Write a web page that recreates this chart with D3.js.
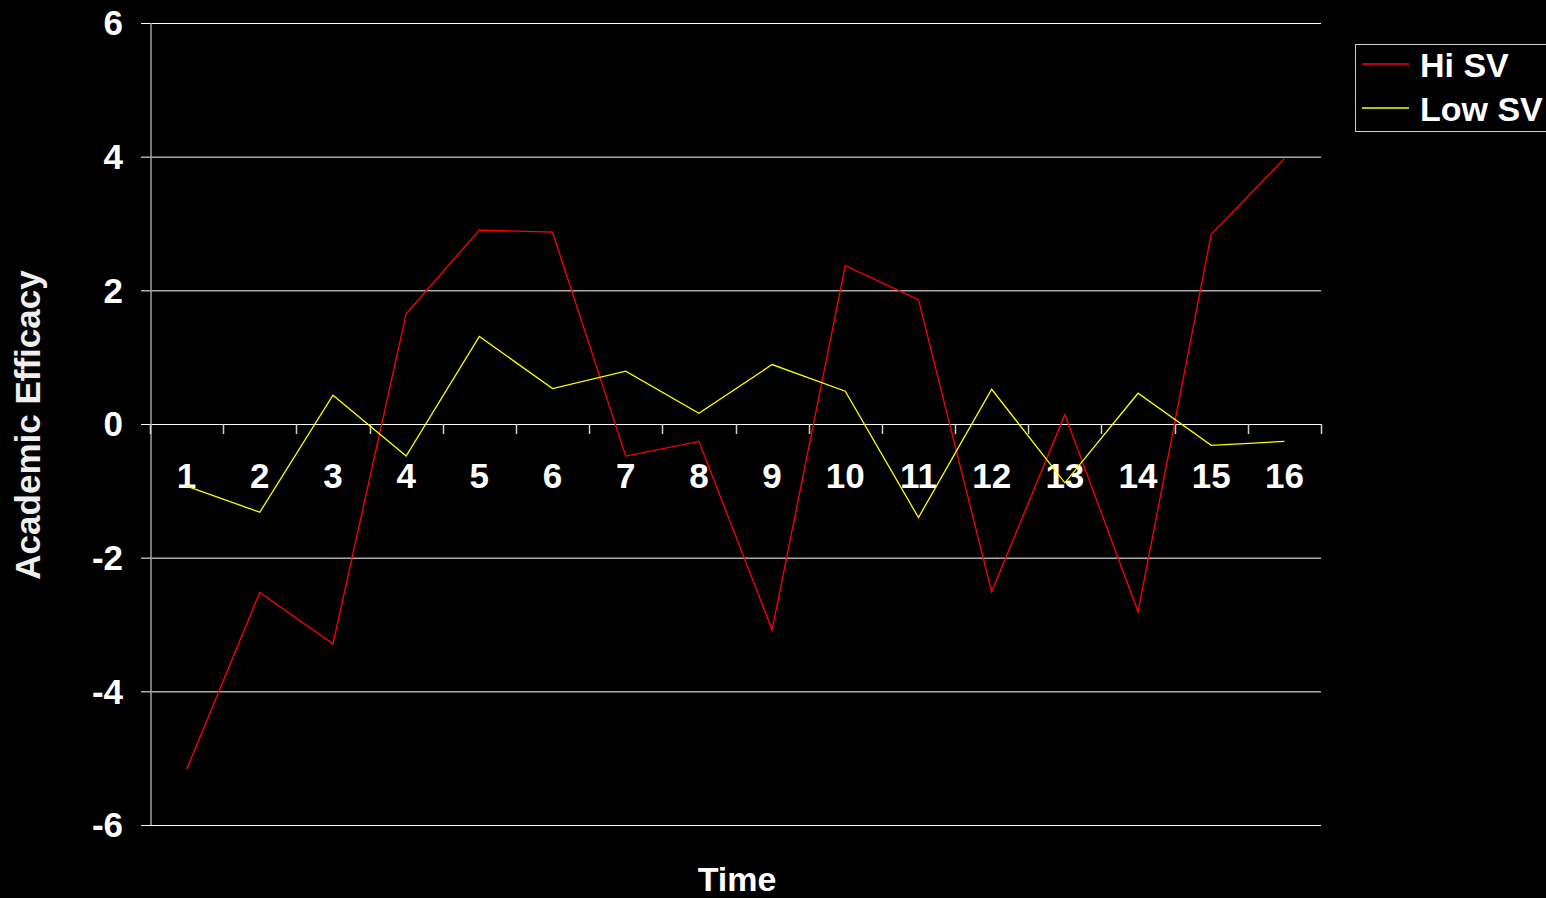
<!DOCTYPE html>
<html>
<head>
<meta charset="utf-8">
<script src="https://cdn.jsdelivr.net/npm/d3@7"></script>
<style>
  html, body { margin: 0; padding: 0; background: #000; }
  svg { display: block; }
  text { font-family: "Liberation Sans", Arial, sans-serif; font-weight: bold; fill: #fff; }
</style>
</head>
<body>
<svg id="chart" width="1546" height="898"></svg>
<script>
// Time points and series
const timePoints = ["1","2","3","4","5","6","7","8","9","10","11","12","13","14","15","16"];
const hiSV  = [-5.17, -2.52, -3.29, 1.65, 2.90, 2.87, -0.48, -0.26, -3.08, 2.37, 1.86, -2.51, 0.14, -2.81, 2.84, 3.97];
const lowSV = [-0.93, -1.32, 0.43, -0.48, 1.31, 0.53, 0.79, 0.16, 0.89, 0.49, -1.40, 0.52, -0.88, 0.46, -0.32, -0.26];
const yTicks = [-6, -4, -2, 0, 2, 4, 6];
const seriesNames = ["Hi SV", "Low SV"];
const seriesColors = ["#ff0000", "#ffff00"];

const svg = d3.select("#chart");
const plotLeft = 150, plotRight = 1321, plotTop = 23, plotBottom = 825;

const x = d3.scaleBand().domain(timePoints).range([plotLeft, plotRight]);
const y = d3.scaleLinear().domain([-6, 6]).range([plotBottom, plotTop]);

// horizontal gridlines with short left ticks
svg.append("g").selectAll("line").data(yTicks).join("line")
  .attr("x1", plotLeft - 9).attr("x2", plotRight)
  .attr("y1", d => y(d) + 0.5).attr("y2", d => y(d) + 0.5)
  .attr("stroke", "#ffffff").attr("stroke-width", 1);

// y axis line
svg.append("line")
  .attr("x1", plotLeft + 1).attr("x2", plotLeft + 1)
  .attr("y1", plotTop).attr("y2", plotBottom)
  .attr("stroke", "#a0a0a0").attr("stroke-width", 1.5);

// y tick labels
svg.append("g").selectAll("text").data(yTicks).join("text")
  .attr("x", 123).attr("y", d => y(d))
  .attr("dy", "0.35em")
  .attr("text-anchor", "end")
  .style("font-size", "35px")
  .text(d => d);

// category boundary ticks hanging below the zero line
const boundaries = timePoints.map(t => x(t)).concat([plotRight]);
svg.append("g").selectAll("line").data(boundaries).join("line")
  .attr("x1", d => Math.round(d) + 0.5).attr("x2", d => Math.round(d) + 0.5)
  .attr("y1", y(0)).attr("y2", y(0) + 10)
  .attr("stroke", "#d0d0d0").attr("stroke-width", 1.5);

// category labels
svg.append("g").selectAll("text").data(timePoints).join("text")
  .attr("x", d => x(d) + x.bandwidth() / 2)
  .attr("y", 488)
  .attr("text-anchor", "middle")
  .style("font-size", "35px")
  .text(d => d);

// series lines
const line = d3.line()
  .x((d, i) => x(timePoints[i]) + x.bandwidth() / 2)
  .y(d => y(d));

[hiSV, lowSV].forEach((vals, i) => {
  svg.append("path")
    .datum(vals)
    .attr("d", line)
    .attr("fill", "none")
    .attr("stroke", seriesColors[i])
    .attr("stroke-width", 1.3)
    .attr("stroke-linejoin", "miter");
});

// axis titles
svg.append("text")
  .attr("transform", `translate(40, ${(268 + 582) / 2}) rotate(-90)`)
  .attr("text-anchor", "middle")
  .style("font-size", "35px")
  .style("fill", "#eeeeee")
  .text("Academic Efficacy");

svg.append("text")
  .attr("x", 737).attr("y", 891)
  .attr("text-anchor", "middle")
  .style("font-size", "34px")
  .text("Time");

// legend
const legend = svg.append("g");
legend.append("rect")
  .attr("x", 1355.5).attr("y", 44.5)
  .attr("width", 200).attr("height", 87)
  .attr("fill", "#000").attr("stroke", "#cccccc").attr("stroke-width", 1);
seriesNames.forEach((name, i) => {
  const ly = 64 + i * 44;
  legend.append("line")
    .attr("x1", 1362).attr("x2", 1409)
    .attr("y1", ly).attr("y2", ly)
    .attr("stroke", seriesColors[i]).attr("stroke-width", 1.3);
  legend.append("text")
    .attr("x", 1420).attr("y", ly + 13)
    .style("font-size", "34px")
    .text(name);
});
</script>
</body>
</html>
